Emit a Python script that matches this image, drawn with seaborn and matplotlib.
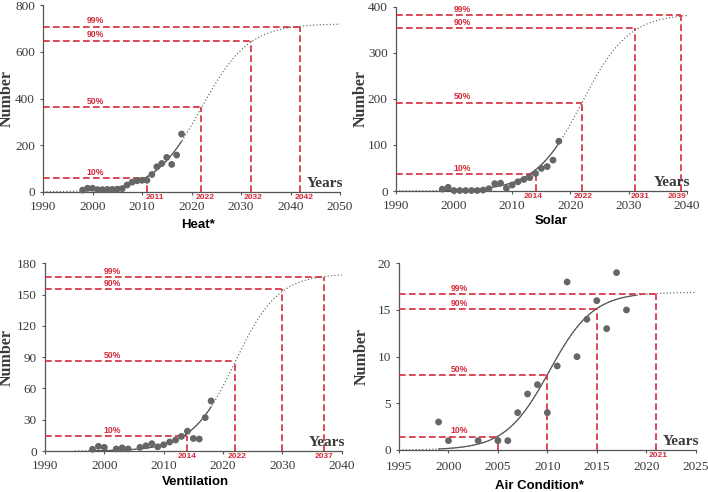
import numpy as np
import pandas as pd
import matplotlib
matplotlib.use("Agg")
import matplotlib.pyplot as plt
import seaborn as sns

sns.set_theme(style="white")
plt.rcParams["font.family"] = ["Liberation Serif", "DejaVu Serif"]

# ---------------- data ----------------
pct_labels = ["10%", "50%", "90%", "99%"]

heat_years = list(range(1998, 2019))
heat_values = [8, 16, 16, 10, 10, 11, 11, 12, 14, 30, 42, 48, 50, 50, 75, 108, 122, 148, 118, 158, 248]
heat_levels = [60, 364, 648, 708]
heat_level_years = [2011, 2022, 2032, 2042]
heat_year_labels = ["2011", "2022", "2032", "2042"]
heat_fit = {"K": 720, "t0": 2022, "r": 0.21}

solar_years = list(range(1998, 2019))
solar_values = [4, 8, 1, 1, 1, 1, 1, 2, 5, 16, 17, 6, 13, 20, 25, 29, 38, 49, 53, 67, 108]
solar_levels = [37, 192, 353, 382]
solar_level_years = [2014, 2022, 2031, 2039]
solar_year_labels = ["2014", "2022", "2031", "2039"]
solar_fit = {"K": 385, "t0": 2022, "r": 0.25}

vent_years = [1998, 1999, 2000, 2002, 2003, 2004, 2006, 2007, 2008, 2009, 2010,
              2011, 2012, 2013, 2014, 2015, 2016, 2017, 2018]
vent_values = [1.6, 4.5, 3.5, 2, 3, 2, 3.5, 5, 7, 4, 6, 8.6, 10.5, 14, 19, 12, 11.5, 32, 48]
vent_levels = [14, 86, 155, 167]
vent_level_years = [2014, 2022, 2030, 2037]
vent_year_labels = ["2014", "2022", "", "2037"]
vent_fit = {"K": 170, "t0": 2022, "r": 0.275}

air_years = [1999, 2000, 2003, 2005, 2006, 2007, 2008, 2009, 2010, 2011, 2012,
             2013, 2014, 2015, 2016, 2017, 2018]
air_values = [3, 1, 1, 1, 1, 4, 6, 7, 4, 9, 18, 10, 14, 16, 13, 19, 15]
air_levels = [1.43, 8, 15.1, 16.7]
air_level_years = [2005, 2010, 2015, 2021]
air_year_labels = ["", "", "", "2021"]
air_fit = {"K": 16.9, "t0": 2010.2, "r": 0.45}

# ---------------- style / layout ----------------
W, H = 708, 492
RED = "#d42a3a"
GRAY = "#555555"
DOT = "#666666"
TXT = "#3a3a3a"

panels = [
    dict(name="Heat*", years=heat_years, values=heat_values, levels=heat_levels,
         lyears=heat_level_years, ylabels=heat_year_labels, fit=heat_fit,
         box=(43, 340, 5, 192), xlim=(1990, 2050), xstep=10, ylim=(0, 800), ystep=200,
         curve=(1990, 2050), solid=(1998, 2018), pctx=2000.6,
         yoff=[8, 4, 2, 4], title_xy=(197.5, 225), ylab_x=7, xpad=4.3),
    dict(name="Solar", years=solar_years, values=solar_values, levels=solar_levels,
         lyears=solar_level_years, ylabels=solar_year_labels, fit=solar_fit,
         box=(395.7, 687, 6.7, 191), xlim=(1990, 2040), xstep=10, ylim=(0, 400), ystep=100,
         curve=(1990, 2040), solid=(1998, 2018), pctx=2001.5,
         yoff=[-2, 1, 6, -4], title_xy=(550.8, 221), ylab_x=360.7, xpad=4.3),
    dict(name="Ventilation", years=vent_years, values=vent_values, levels=vent_levels,
         lyears=vent_level_years, ylabels=vent_year_labels, fit=vent_fit,
         box=(45, 341.7, 263.3, 451), xlim=(1990, 2040), xstep=10, ylim=(0, 180), ystep=30,
         curve=(1995, 2040), solid=(1998, 2018), pctx=2001.3,
         yoff=[0, 2, 0, 0], title_xy=(195.5, 482), ylab_x=7, xpad=4.3),
    dict(name="Air Condition*", years=air_years, values=air_values, levels=air_levels,
         lyears=air_level_years, ylabels=air_year_labels, fit=air_fit,
         box=(399, 695.7, 263.3, 450), xlim=(1995, 2025), xstep=5, ylim=(0, 20), ystep=5,
         curve=(1995, 2025), solid=(1999, 2019), pctx=2001.1,
         yoff=[0, 0, 0, 2], title_xy=(539, 486), ylab_x=362, xpad=5.5),
]

fig = plt.figure(figsize=(W / 100, H / 100), dpi=100)


def logistic(t, K, t0, r):
    return K / (1.0 + np.exp(-r * (t - t0)))


for p in panels:
    l, r_, t, b = p["box"]
    ax = fig.add_axes([l / W, 1 - b / H, (r_ - l) / W, (b - t) / H])
    x0, x1 = p["xlim"]
    y0, y1 = p["ylim"]

    # fitted curve: dotted overall, solid over the observed span
    tt = np.linspace(p["curve"][0], p["curve"][1], 400)
    ff = logistic(tt, **p["fit"])
    sns.lineplot(x=tt, y=ff, ax=ax, color=GRAY, lw=0.8, linestyle=(0, (1, 2)),
                 sort=False, estimator=None)
    ts = np.linspace(p["solid"][0], p["solid"][1], 200)
    sns.lineplot(x=ts, y=logistic(ts, **p["fit"]), ax=ax, color=GRAY, lw=0.9,
                 sort=False, estimator=None)

    # red dashed guide lines
    for lev, yr, pl, ylab, off in zip(p["levels"], p["lyears"], pct_labels,
                                       p["ylabels"], p["yoff"]):
        ax.plot([x0, yr], [lev, lev], color=RED, lw=1.2, ls=(0, (4, 2)), zorder=3)
        ax.plot([yr, yr], [y0, lev], color=RED, lw=1.2, ls=(0, (4, 2)), zorder=3)
        ax.annotate(pl, xy=(p["pctx"], lev), xytext=(0, 4.2), textcoords="offset points",
                    ha="center", va="center", color=RED, fontsize=6.2,
                    fontweight="bold", family=["Liberation Sans", "DejaVu Sans"])
        if ylab:
            ax.annotate(ylab, xy=(yr, y0), xytext=(off * 0.72, -4.3),
                        textcoords="offset points", ha="center", va="center",
                        color=RED, fontsize=6.0, fontweight="bold",
                        family=["Liberation Sans", "DejaVu Sans"], annotation_clip=False)

    # data points
    df = pd.DataFrame({"year": p["years"], "n": p["values"]})
    sns.scatterplot(data=df, x="year", y="n", ax=ax, color=DOT, s=24,
                    edgecolor="none", zorder=4, clip_on=False)

    ax.set_xlim(x0, x1)
    ax.set_ylim(y0, y1)
    ax.set_xticks(np.arange(x0, x1 + 0.1, p["xstep"]))
    ax.set_yticks(np.arange(y0, y1 + 0.01, p["ystep"]))
    ax.set_xlabel("")
    ax.set_ylabel("Number", fontsize=11.5, fontweight="bold", color=TXT)
    ax.yaxis.label.set_va("center")
    ax.yaxis.set_label_coords((p["ylab_x"] - l) / (r_ - l), 0.5)

    for s in ["top", "right"]:
        ax.spines[s].set_visible(False)
    for s in ["left", "bottom"]:
        ax.spines[s].set_color(GRAY)
        ax.spines[s].set_linewidth(0.9)
    ax.tick_params(axis="both", which="major", length=2.5, width=0.8, color=GRAY,
                   labelsize=9.5, labelcolor=TXT, direction="out",
                   bottom=True, left=True)
    ax.tick_params(axis="x", pad=p["xpad"])
    ax.tick_params(axis="y", pad=3.3)

    ax.text(1.012, 0.012, "Years", transform=ax.transAxes, ha="right", va="bottom",
            fontsize=11, fontweight="bold", color=TXT)

    fig.text(p["title_xy"][0] / W, 1 - p["title_xy"][1] / H, p["name"],
             ha="center", va="center", fontsize=9.5, fontweight="bold", color="black",
             family=["Liberation Sans", "DejaVu Sans"])

fig.savefig("out.png", dpi=100)
